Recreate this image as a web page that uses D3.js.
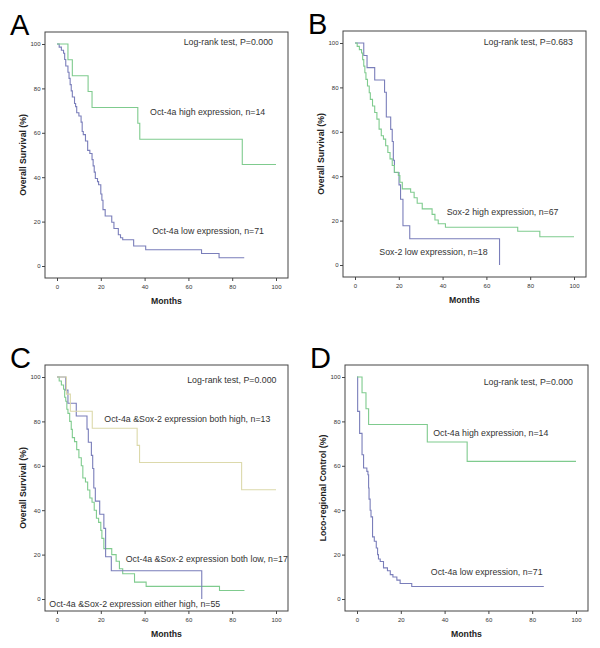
<!DOCTYPE html>
<html lang="en">
<head>
<meta charset="UTF-8">
<title>Kaplan-Meier panels</title>
<script src="https://d3js.org/d3.v7.min.js"></script>
<style>
  html, body { margin: 0; background: #fff; }
  svg { display: block; font-family: 'Liberation Sans', Arial, sans-serif; }
  .frame { fill: none; stroke: #444; stroke-width: 1; }
  .tick text { font-size: 6px; fill: #333; }
  .tick line { stroke: #444; }
  .domain { display: none; }
  .note { font-size: 8.8px; fill: #333; }
  .axis-title { font-size: 8.7px; font-weight: bold; fill: #222; }
  .letter { font-size: 29px; fill: #000; }
  .km { fill: none; stroke-width: 1.1; }
</style>
</head>
<body>
<svg width="600" height="648"></svg>
<script>
// step points [months, percent]
const aHigh = [[0,100],[5,92.9],[7,85.7],[14.2,78.6],[16,71.4],[36.9,64.3],[37.8,57.1],[84.6,45.7],[100,45.7]];
const aLow = [[0,100],[1,98.6],[2,97.2],[3,95.8],[3.5,93],[4,90.1],[5,87.3],[5.5,84.5],[6,81.7],[6.5,78.9],[7,76.1],
  [8,73.2],[8.5,71.8],[9,69],[10,67.6],[11,64.8],[11.5,60.6],[12,59.2],[13,56.3],[14,52.1],[15,50.7],[16,47.9],
  [16.5,45.1],[17,42.3],[17.5,39.4],[18.5,38],[19,36.6],[20,32.4],[20.5,29.6],[21,25.4],[22,22.5],[25,19.7],
  [26,16.9],[28,14.1],[29,12.7],[30,11.8],[35,9],[40.5,7.3],[66,5.6],[74,3.7],[85.5,3.7]];

const bHigh = [[0,100],[1,98.5],[2,97],[3,95.5],[3.5,92.5],[4,89.6],[4.5,86.6],[5,83.6],[5.7,80.6],[6.5,77.6],
  [7,74.6],[8,71.6],[9,68.7],[10,65.7],[11,61.2],[12,58.2],[13,56.7],[14,53.7],[15,50.7],[16,47.8],[17,44.8],
  [18,41.8],[19.8,40.3],[20.5,37.3],[21.6,34.3],[25.4,32.8],[27,30.3],[28.4,27.8],[30.7,25.3],[35.2,22.8],
  [36.5,20.3],[38,18.6],[41.3,17],[74.3,15.2],[84.4,12.7],[100,12.7]];
const bLow = [[0,100],[4,94.4],[5.5,88.9],[9,83.3],[13.5,77.8],[14.3,66.7],[16.3,61.1],[17,55.6],[17.5,47.2],
  [18,41.7],[20.1,36.1],[20.8,29.6],[21.9,17.7],[25,11.8],[66,11.8],[66,0]];

const cBothHigh = [[0,100],[4.3,92.3],[6.1,84.6],[16.1,76.9],[36.6,69.2],[37.7,61.5],[84.3,49.2],[100,49.2]];
const cBothLow = [[0,100],[4,94.1],[5,88.2],[8.8,82.4],[13.7,76.5],[14.3,70.6],[15.7,64.7],[16.3,58.8],[16.8,50],
  [17.5,44.1],[19.5,38.2],[21.4,31.8],[22.2,19],[24.8,12.7],[66.1,12.7],[66.1,0]];
const cEither = [[0,100],[1,98.2],[2,96.4],[3,94.5],[3.5,90.9],[4,89.1],[4.5,85.5],[5,83.6],[5.8,80],[6.5,76.4],
  [7,72.7],[8,70.9],[9,67.3],[10,63.6],[11.1,60],[11.8,54.5],[13,52.7],[14,49.1],[15,45.5],[16,43.6],[17,40],
  [18,36.4],[19,34.5],[20,30.9],[20.5,27.3],[21.4,22.7],[25,20],[27,17],[28.5,13.6],[30,11.4],[35.4,7.6],
  [40.7,5.7],[74.2,3.8],[85.6,3.8]];

const dHigh = [[0,100],[2.3,92.9],[4.1,85.7],[5.3,78.6],[32.1,70.7],[50.3,62],[100,62]];
const dLow = [[0,100],[0.3,84.5],[1.2,74.6],[2.3,65],[3,59],[4.5,57.5],[5,56],[5.3,50],[5.5,45],[6,40],[6.4,37],
  [7.1,28],[7.9,26],[8.8,23],[9.4,20],[9.8,18],[10.6,16.9],[12.1,14],[13.9,12.7],[15.2,11],[16.4,9.9],[18.2,8.5],
  [19.7,7],[25,5.6],[85.3,5.6]];

const xTicks = [0, 20, 40, 60, 80, 100];
const yTicks = [0, 20, 40, 60, 80, 100];

const blue = "#7a7eba", green = "#7fcb8e", beige = "#dcd9ab";

const panels = [
  { letter: "A", left: 45, top: 32, yTitle: "Overall Survival (%)",
    series: [{ d: aLow, c: blue }, { d: aHigh, c: green }],
    notes: [{ t: "Log-rank test, P=0.000", x: 98.6, y: 101, end: true },
            { t: "Oct-4a high expression, n=14", x: 42.5, y: 69.5 },
            { t: "Oct-4a low expression, n=71", x: 43.5, y: 15.8 }] },
  { letter: "B", left: 343, top: 31, yTitle: "Overall Survival (%)",
    series: [{ d: bLow, c: blue }, { d: bHigh, c: green }],
    notes: [{ t: "Log-rank test, P=0.683", x: 99.5, y: 100.6, end: true },
            { t: "Sox-2 high expression, n=67", x: 41.9, y: 24 },
            { t: "Sox-2 low expression, n=18", x: 11.1, y: 5.7 }] },
  { letter: "C", left: 45, top: 365, yTitle: "Overall Survival (%)",
    series: [{ d: cEither, c: green }, { d: cBothLow, c: blue }, { d: cBothHigh, c: beige }],
    notes: [{ t: "Log-rank test, P=0.000", x: 100.2, y: 98.6, end: true },
            { t: "Oct-4a &Sox-2 expression both high, n=13", x: 21.6, y: 81 },
            { t: "Oct-4a &Sox-2 expression both low, n=17", x: 31.4, y: 17.9 },
            { t: "Oct-4a &Sox-2 expression either high, n=55", x: -3.5, y: -2.4 }] },
  { letter: "D", left: 345, top: 365, yTitle: "Loco-regional Control (%)",
    series: [{ d: dLow, c: blue }, { d: dHigh, c: green }],
    notes: [{ t: "Log-rank test, P=0.000", x: 98.6, y: 97.6, end: true },
            { t: "Oct-4a high expression, n=14", x: 34.8, y: 75 },
            { t: "Oct-4a low expression, n=71", x: 33.7, y: 12 }] }
];

const svg = d3.select("svg");
const W = 243, H = 246, pad = 12;

panels.forEach(pn => {
  const g = svg.append("g").attr("transform", `translate(${pn.left},${pn.top})`);
  const x = d3.scaleLinear().domain([0, 100]).range([pad, W - pad]);
  const y = d3.scaleLinear().domain([0, 100]).range([H - pad, pad]);

  g.append("rect").attr("class", "frame").attr("width", W).attr("height", H);

  g.append("g").attr("transform", `translate(0,${H})`)
    .call(d3.axisBottom(x).tickValues(xTicks).tickSize(3).tickPadding(4));
  g.append("g")
    .call(d3.axisLeft(y).tickValues(yTicks).tickSize(3).tickPadding(1.5));

  const line = d3.line().x(d => x(d[0])).y(d => y(d[1])).curve(d3.curveStepAfter);
  pn.series.forEach(s => {
    g.append("path").attr("class", "km").attr("stroke", s.c).attr("d", line(s.d));
  });

  pn.notes.forEach(n => {
    g.append("text").attr("class", "note").attr("x", x(n.x)).attr("y", y(n.y))
      .attr("dy", "0.35em").attr("text-anchor", n.end ? "end" : "start").text(n.t);
  });

  g.append("text").attr("class", "axis-title")
    .attr("x", W / 2).attr("y", H + 26).attr("text-anchor", "middle").text("Months");
  g.append("text").attr("class", "axis-title")
    .attr("transform", `translate(-19,${H / 2}) rotate(-90)`)
    .attr("text-anchor", "middle").text(pn.yTitle);

  g.append("text").attr("class", "letter").attr("x", -35).attr("y", 3).text(pn.letter);
});
</script>
</body>
</html>
